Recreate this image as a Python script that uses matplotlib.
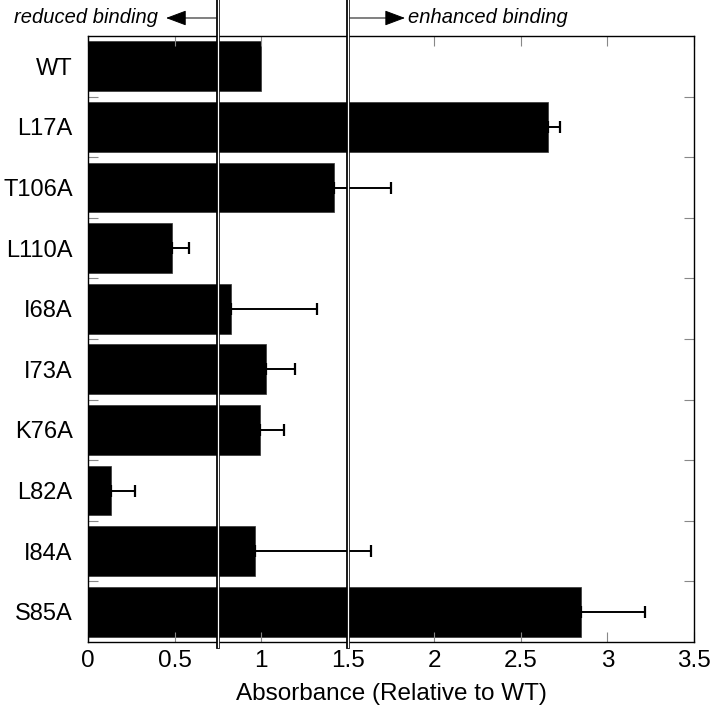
import numpy as np
import matplotlib.pyplot as plt
from matplotlib.transforms import blended_transform_factory

plt.rcParams['font.family'] = ['Liberation Sans', 'DejaVu Sans']

# данные
mutants = ['WT', 'L17A', 'T106A', 'L110A', 'I68A', 'I73A', 'K76A', 'L82A', 'I84A', 'S85A']
absorbance = [1.00, 2.655, 1.42, 0.483, 0.824, 1.03, 0.995, 0.131, 0.963, 2.845]
errors = [0.0, 0.07, 0.33, 0.10, 0.50, 0.166, 0.137, 0.14, 0.67, 0.37]
x_ticks = [0, 0.5, 1, 1.5, 2, 2.5, 3, 3.5]
x_tick_labels = ['0', '0.5', '1', '1.5', '2', '2.5', '3', '3.5']
reduced_cut = 0.75   # порог ослабленного связывания
enhanced_cut = 1.5   # порог усиленного связывания

fig = plt.figure(figsize=(7.14, 7.2), dpi=100)
ax = fig.add_axes([0.1232, 0.1083, 0.972 - 0.1232, 0.95 - 0.1083])

y = np.arange(len(mutants))
vals = np.array(absorbance)
err = np.array(errors)
ax.barh(y, vals, height=0.82, color='black', edgecolor='#333333', linewidth=0.5)

# планки погрешностей только вправо и только там, где они есть
m = err > 0
ax.errorbar(vals[m], y[m], xerr=[np.zeros(m.sum()), err[m]], fmt='none',
            ecolor='black', elinewidth=1.4, capsize=4, capthick=1.6)

ax.set_xlim(0, 3.5)
ax.set_ylim(len(mutants) - 0.5, -0.5)
ax.set_xticks(x_ticks)
ax.set_xticklabels(x_tick_labels)
ax.set_yticks(y)
ax.set_yticklabels(mutants)
ax.set_yticks(np.arange(0.5, len(mutants) - 1, 1), minor=True)

ax.tick_params(axis='x', which='major', direction='in', top=True, bottom=True,
               length=7, width=0.8, color='#888888', labelsize=17.5, pad=6)
ax.tick_params(axis='y', which='major', length=0, labelsize=17, pad=11)
ax.tick_params(axis='y', which='minor', direction='in', left=True, right=True,
               length=7, width=0.8, color='#888888')
for s in ax.spines.values():
    s.set_linewidth(1.0)

ax.set_xlabel('Absorbance (Relative to WT)', fontsize=17.5, labelpad=8)

# двойные вертикальные линии
top = 1 + 36 / 606
for xc in (reduced_cut, enhanced_cut):
    ax.axvline(xc, ymin=-0.008, ymax=top, color='black', lw=2.7, clip_on=False, zorder=5)
    ax.axvline(xc, ymin=-0.008, ymax=top, color='white', lw=0.9, clip_on=False, zorder=6)

# стрелки и подписи сверху
trans = blended_transform_factory(ax.transData, ax.transAxes)
ya = 1 + 18 / 606
astyle = dict(arrowstyle='-|>,head_length=0.8,head_width=0.3', mutation_scale=16,
              lw=0.7, color='black', shrinkA=0, shrinkB=0)
ax.annotate('', xy=(0.451, ya), xytext=(reduced_cut - 0.01, ya), xycoords=trans,
            textcoords=trans, arrowprops=astyle, annotation_clip=False)
ax.annotate('', xy=(1.831, ya), xytext=(enhanced_cut + 0.01, ya), xycoords=trans,
            textcoords=trans, arrowprops=astyle, annotation_clip=False)
ax.text(0.404, ya, 'reduced binding', transform=trans, ha='right', va='center',
        fontsize=14.5, style='italic')
ax.text(1.849, ya, 'enhanced binding', transform=trans, ha='left', va='center',
        fontsize=14.5, style='italic')

fig.savefig('out.png', dpi=100)
